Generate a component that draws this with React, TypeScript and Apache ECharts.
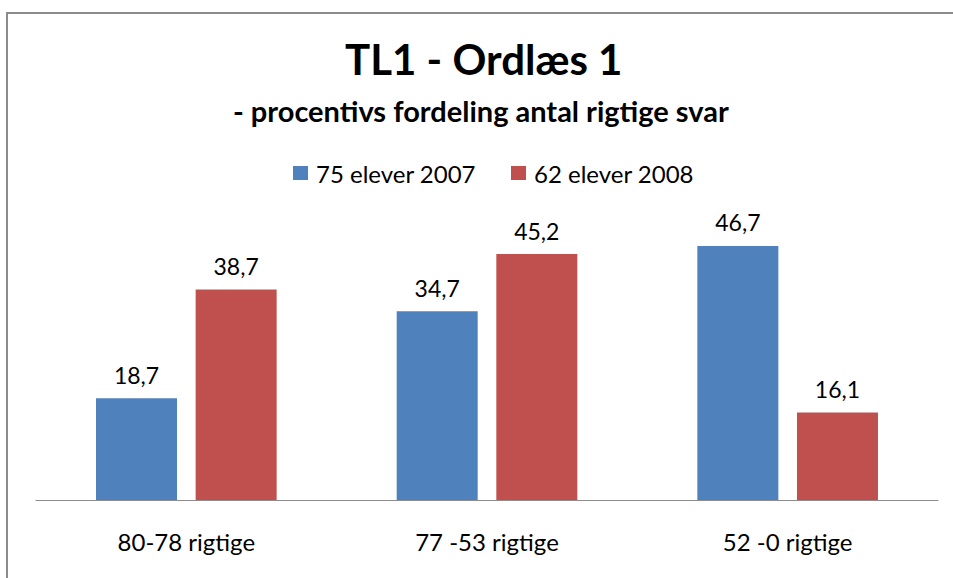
import React, { useEffect, useRef } from "react";
import * as echarts from "echarts";

const categories = ["80-78 rigtige", "77 -53 rigtige", "52 -0 rigtige"];
const seriesNames = ["75 elever 2007", "62 elever 2008"];
const values2007 = [18.7, 34.7, 46.7];
const values2008 = [38.7, 45.2, 16.1];
const titleText = "TL1 - Ordlæs 1";
const subtitleText = "- procentivs fordeling antal rigtige svar";

const FONT = "Lato, 'Open Sans', sans-serif";

export default function App() {
  const ref = useRef<HTMLDivElement>(null);
  useEffect(() => {
    if (!ref.current) return;
    const chart = echarts.init(ref.current, undefined, { renderer: "svg" });
    const fmt = (p: any) => String(p.value).replace(".", ",");
    const label = {
      show: true,
      position: "top",
      distance: 12,
      formatter: fmt,
      color: "#000",
      fontFamily: FONT,
      fontSize: 23,
    };
    chart.setOption({
      animation: false,
      backgroundColor: "#fff",
      title: [
        {
          text: titleText,
          left: 345,
          top: 38,
          padding: 0,
          textStyle: { fontFamily: FONT, fontSize: 42, fontWeight: "bold", color: "#000", lineHeight: 42 },
        },
        {
          text: subtitleText,
          left: 233,
          top: 96,
          padding: 0,
          textStyle: { fontFamily: FONT, fontSize: 29, fontWeight: "bold", color: "#000", lineHeight: 29 },
        },
      ],
      legend: {
        top: 161,
        left: 293,
        padding: 0,
        itemWidth: 15,
        itemHeight: 14,
        itemGap: 35,
        icon: "rect",
        textStyle: {
          fontFamily: FONT,
          fontSize: 24,
          color: "#000",
          lineHeight: 23,
          padding: [0, 0, 0, 3],
        },
        data: seriesNames,
      },
      graphic: [
        {
          type: "rect",
          shape: { x: 7, y: 13, width: 1000, height: 1000 },
          style: { fill: "none", stroke: "#8c8c8c", lineWidth: 2 },
          silent: true,
        },
      ],
      grid: { left: 36, right: 15, top: 228, bottom: 78 },
      xAxis: {
        type: "category",
        data: categories,
        axisLine: { lineStyle: { color: "#8c8c8c", width: 1 } },
        axisTick: { show: false },
        axisLabel: { margin: 29, color: "#000", fontFamily: FONT, fontSize: 24 },
      },
      yAxis: {
        type: "value",
        min: 0,
        max: 50,
        show: false,
        splitLine: { show: false },
      },
      series: [
        {
          name: seriesNames[0],
          type: "bar",
          data: values2007,
          barWidth: 81,
          barGap: "23%",
          itemStyle: { color: "#4F81BD" },
          label,
        },
        {
          name: seriesNames[1],
          type: "bar",
          data: values2008,
          barWidth: 81,
          barGap: "23%",
          itemStyle: { color: "#C0504D" },
          label,
        },
      ],
    });
    return () => chart.dispose();
  }, []);
  return (
    <div
      ref={ref}
      style={{ position: "fixed", left: 0, top: 0, width: 953, height: 578 }}
    />
  );
}
